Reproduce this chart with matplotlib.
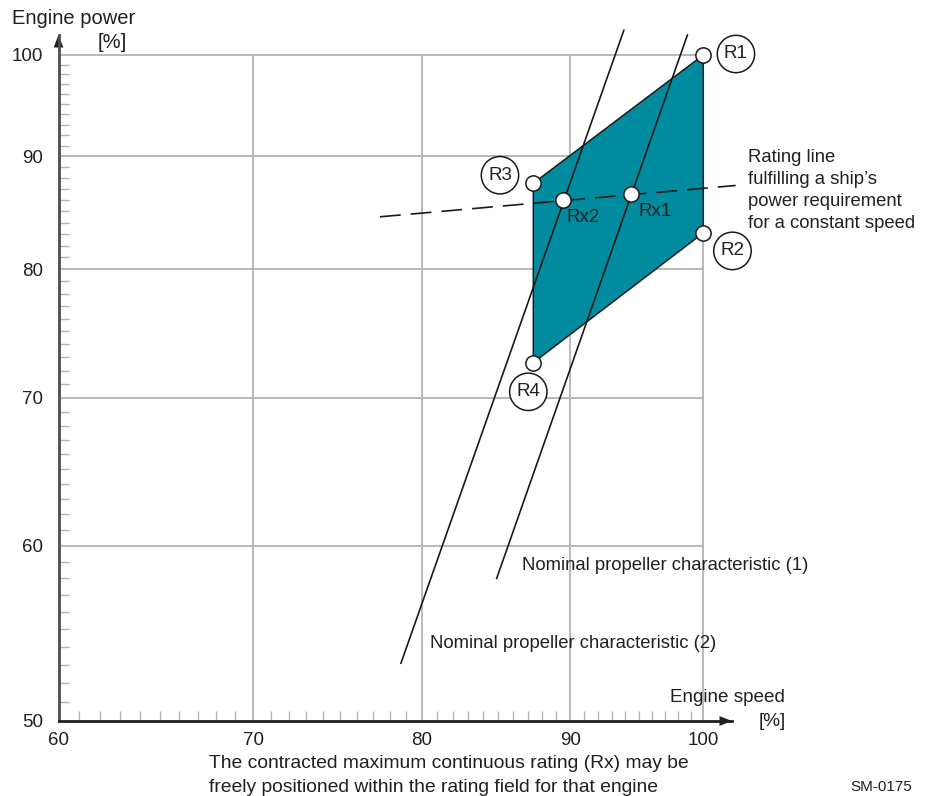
import matplotlib
matplotlib.use("Agg")
import matplotlib.pyplot as plt
from matplotlib.ticker import FixedLocator, NullFormatter, FixedFormatter

plt.rcParams['font.family'] = ['Liberation Sans', 'DejaVu Sans']

# ---- data ----
x_major = [60, 70, 80, 90, 100]
y_major = [50, 60, 70, 80, 90, 100]
x_minor = [v for v in range(61, 100) if v % 10 != 0]
y_minor = [v for v in range(51, 100) if v % 10 != 0]

# rating field corners (speed %, power %)
field_names = ["R1", "R2", "R4", "R3"]
field_speed = [100.0, 100.0, 87.4, 87.4]
field_power = [100.0, 83.1, 72.6, 87.5]

# contracted ratings
rx_names = ["Rx1", "Rx2"]
rx_speed = [94.4, 89.5]
rx_power = [86.55, 86.0]

# nominal propeller characteristics (end points)
prop1_speed = [84.9, 98.75]
prop1_power = [58.0, 102.1]
prop2_speed = [78.7, 93.9]
prop2_power = [53.1, 102.6]

# rating line for constant ship speed (end points)
rating_speed = [77.4, 102.6]
rating_power = [84.5, 87.3]

# ---- figure ----
W, H = 930, 796
fig = plt.figure(figsize=(W / 100, H / 100), dpi=100)
x0, y0 = 58.5, 721.0
ax_w, ax_h = 673.5, 686.0
ax = fig.add_axes([x0 / W, (H - y0) / H, ax_w / W, ax_h / H])
ax.set_xscale('log')
ax.set_yscale('log')
ax.set_xlim(60, 102.3)
ax.set_ylim(50, 102.1)
ax.patch.set_alpha(0)

TXT = '#231f20'
GRID = '#b3b3b3'

# grid lines limited to 60..100 / 50..100
for xv in x_major[1:]:
    ax.plot([xv, xv], [y_major[0], y_major[-1]], color=GRID, lw=1.3, zorder=1)
for yv in y_major[1:]:
    ax.plot([x_major[0], x_major[-1]], [yv, yv], color=GRID, lw=1.3, zorder=1)

# rating field
ax.fill(field_speed, field_power, facecolor='#008c9e', edgecolor='#1a1a1a',
        lw=1.1, zorder=2)

# propeller curves
ax.plot(prop1_speed, prop1_power, color='#1a1a1a', lw=1.2, zorder=3, clip_on=False)
ax.plot(prop2_speed, prop2_power, color='#1a1a1a', lw=1.2, zorder=3, clip_on=False)

# rating line
ln, = ax.plot(rating_speed, rating_power, color='#1a1a1a', lw=1.2, zorder=3,
              clip_on=False)
ln.set_dashes((12.5, 6))

# points
ax.plot(field_speed, field_power, 'o', ms=11, mfc='white', mec='#1a1a1a',
        mew=1.1, zorder=5, clip_on=False)
ax.plot(rx_speed, rx_power, 'o', ms=11, mfc='white', mec='#1a1a1a',
        mew=1.1, zorder=5, clip_on=False)

# circled labels for field corners (offsets in points)
offsets = {"R1": (23.5, 0.7), "R2": (21, -13), "R3": (-24, 5.8), "R4": (-3.6, -21)}
for name, sx, py in zip(field_names, field_speed, field_power):
    dx, dy = offsets[name]
    ax.annotate(name, (sx, py), xytext=(dx, dy), textcoords='offset points',
                ha='center', va='center', fontsize=13.5, color=TXT, zorder=6,
                bbox=dict(boxstyle='circle,pad=0.36', fc='white', ec='#1a1a1a', lw=1.1),
                annotation_clip=False)

rx_offsets = {"Rx1": (5.5, -13), "Rx2": (2.2, -13)}
for name, sx, py in zip(rx_names, rx_speed, rx_power):
    dx, dy = rx_offsets[name]
    ax.annotate(name, (sx, py), xytext=(dx, dy), textcoords='offset points',
                ha='left', va='center', fontsize=13.5, color=TXT, zorder=6,
                annotation_clip=False)

# spines and ticks
for s in ['top', 'right']:
    ax.spines[s].set_visible(False)
ax.spines['left'].set_color('#4d4d4d')
ax.spines['left'].set_linewidth(2)
ax.spines['bottom'].set_color('#231f20')
ax.spines['bottom'].set_linewidth(2)
ax.spines['left'].set_zorder(4)
ax.spines['bottom'].set_zorder(4)

ax.xaxis.set_major_locator(FixedLocator(x_major))
ax.xaxis.set_major_formatter(FixedFormatter([str(v) for v in x_major]))
ax.xaxis.set_minor_locator(FixedLocator(x_minor))
ax.xaxis.set_minor_formatter(NullFormatter())
ax.yaxis.set_major_locator(FixedLocator(y_major))
ax.yaxis.set_major_formatter(FixedFormatter([str(v) for v in y_major]))
ax.yaxis.set_minor_locator(FixedLocator(y_minor))
ax.yaxis.set_minor_formatter(NullFormatter())

ax.tick_params(which='major', length=0, labelsize=13.5, labelcolor=TXT)
ax.tick_params(axis='x', which='major', pad=8)
ax.tick_params(axis='y', which='major', pad=11)
ax.tick_params(which='minor', direction='in', length=7.5, width=1, color='#b3b3b3')

# arrow heads
ax.annotate('', xy=(1.0, 0), xytext=(0.985, 0), xycoords='axes fraction',
            arrowprops=dict(arrowstyle='-|>,head_length=0.9,head_width=0.35',
                            color='#231f20', lw=0, shrinkA=0, shrinkB=0),
            annotation_clip=False)
ax.annotate('', xy=(0, 1.0), xytext=(0, 0.985), xycoords='axes fraction',
            arrowprops=dict(arrowstyle='-|>,head_length=0.9,head_width=0.35',
                            color='#231f20', lw=0, shrinkA=0, shrinkB=0),
            annotation_clip=False)


def ftext(px, py, s, ha='left', va='center', size=13.5, **kw):
    fig.text(px / W, 1 - py / H, s, ha=ha, va=va, fontsize=size, color=TXT, **kw)


ftext(12, 19, "Engine power", size=14.5)
ftext(98, 43, "[%]", size=14.5)
ftext(785, 698, "Engine speed", ha='right', size=13.6)
ftext(786, 721, "[%]", ha='right', size=13.6)
ftext(209, 764, "The contracted maximum continuous rating (Rx) may be", size=13.9)
ftext(209, 787, "freely positioned within the rating field for that engine", size=13.9)
ftext(912, 787, "SM-0175", ha='right', size=11)
ftext(522, 566, "Nominal propeller characteristic (1)", size=13.3)
ftext(430, 644, "Nominal propeller characteristic (2)", size=13.3)
for i, line in enumerate(["Rating line", "fulfilling a ship\u2019s",
                          "power requirement", "for a constant speed"]):
    ftext(748, 158 + 22 * i, line, size=13.3)

fig.savefig("out.png", dpi=100)
